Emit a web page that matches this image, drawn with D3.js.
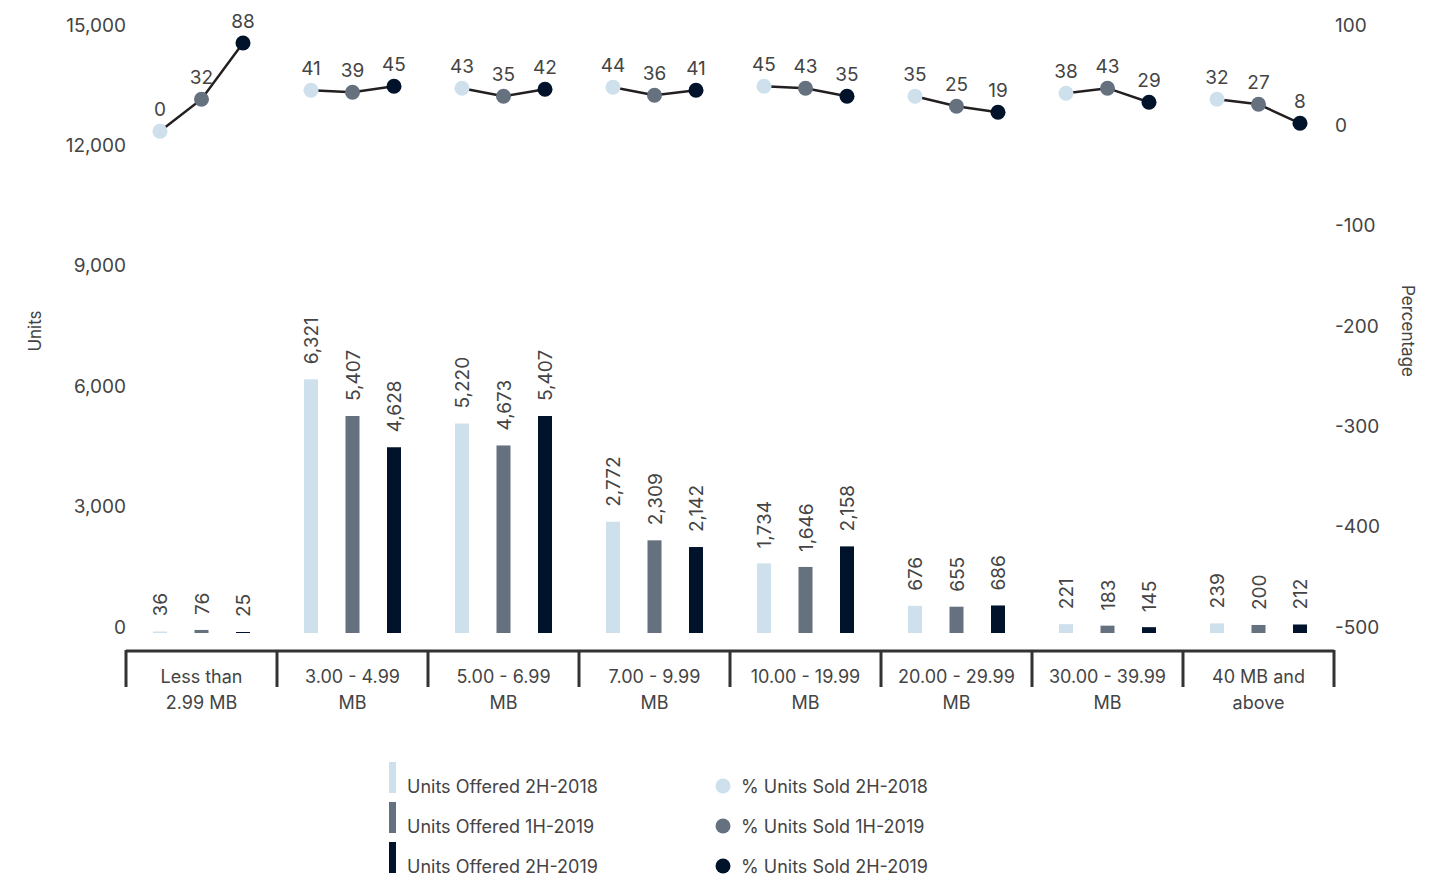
<!DOCTYPE html>
<html>
<head>
<meta charset="utf-8">
<script src="https://cdn.jsdelivr.net/npm/d3@7"></script>
<style>
  html, body { margin: 0; padding: 0; background: #fff; }
  svg text { font-family: Inter, "Open Sans", sans-serif; fill: #444; }
</style>
</head>
<body>
<svg id="chart" width="1444" height="880"></svg>
<script>
// ---- Data ----
const categories = ["Less than 2.99 MB", "3.00 - 4.99 MB", "5.00 - 6.99 MB", "7.00 - 9.99 MB",
                    "10.00 - 19.99 MB", "20.00 - 29.99 MB", "30.00 - 39.99 MB", "40 MB and above"];
const categoryLines = [["Less than", "2.99 MB"], ["3.00 - 4.99", "MB"], ["5.00 - 6.99", "MB"], ["7.00 - 9.99", "MB"],
                       ["10.00 - 19.99", "MB"], ["20.00 - 29.99", "MB"], ["30.00 - 39.99", "MB"], ["40 MB and", "above"]];
const barSeriesNames = ["Units Offered 2H-2018", "Units Offered 1H-2019", "Units Offered 2H-2019"];
const lineSeriesNames = ["% Units Sold 2H-2018", "% Units Sold 1H-2019", "% Units Sold 2H-2019"];
const unitsOffered2H2018 = [36, 6321, 5220, 2772, 1734, 676, 221, 239];
const unitsOffered1H2019 = [76, 5407, 4673, 2309, 1646, 655, 183, 200];
const unitsOffered2H2019 = [25, 4628, 5407, 2142, 2158, 686, 145, 212];
const pctSold2H2018 = [0, 41, 43, 44, 45, 35, 38, 32];
const pctSold1H2019 = [32, 39, 35, 36, 43, 25, 43, 27];
const pctSold2H2019 = [88, 45, 42, 41, 35, 19, 29, 8];
const leftTicks = [0, 3000, 6000, 9000, 12000, 15000];
const rightTicks = [-500, -400, -300, -200, -100, 0, 100];

const colors = ["#cde0ec", "#66717f", "#00132b"];
const barSeries = [unitsOffered2H2018, unitsOffered1H2019, unitsOffered2H2019];
const lineSeries = [pctSold2H2018, pctSold1H2019, pctSold2H2019];

const svg = d3.select("#chart");
const numSize = "19px";

// ---- Scales ----
const x = d3.scaleBand().domain(categories).range([126, 1334]).padding(0);
const xs = d3.scalePoint().domain([0, 1, 2]).range([x.bandwidth() / 2 - 41.5, x.bandwidth() / 2 + 41.5]);
const yL = d3.scaleLinear().domain([0, 15000]).range([633, 31]);
const yR = d3.scaleLinear().domain([-500, 100]).range([633, 31]);
const fmt = d3.format(",");

// ---- Left axis ----
const leftAxis = svg.append("g").attr("transform", "translate(126,0)")
  .call(d3.axisLeft(yL).tickValues(leftTicks).tickFormat(fmt).tickSize(0).tickPadding(0));
leftAxis.select(".domain").remove();
leftAxis.selectAll("text").attr("dy", 0).attr("x", 0)
  .style("font-size", numSize).attr("fill", "#444").attr("font-family", null);

// ---- Right axis ----
const rightAxis = svg.append("g").attr("transform", "translate(1335,0)")
  .call(d3.axisRight(yR).tickValues(rightTicks).tickFormat(d => String(d)).tickSize(0).tickPadding(0));
rightAxis.select(".domain").remove();
rightAxis.selectAll("text").attr("dy", 0).attr("x", 0)
  .style("font-size", numSize).attr("fill", "#444").attr("font-family", null);

// Axis titles
svg.append("text").attr("transform", "translate(41,331) rotate(-90)")
  .attr("text-anchor", "middle").style("font-size", "17px").text("Units");
svg.append("text").attr("transform", "translate(1402,331) rotate(90)")
  .attr("text-anchor", "middle").style("font-size", "17px").text("Percentage");

// ---- Bars ----
barSeries.forEach((vals, si) => {
  const g = svg.append("g");
  g.selectAll("rect").data(vals).join("rect")
    .attr("x", (d, i) => x(categories[i]) + xs(si) - 7)
    .attr("width", 14)
    .attr("y", d => yL(d))
    .attr("height", d => yL(0) - yL(d))
    .attr("fill", colors[si]);
  g.selectAll("text").data(vals).join("text")
    .attr("transform", (d, i) => `translate(${x(categories[i]) + xs(si) + 7},${yL(d) - 15}) rotate(-90)`)
    .attr("text-anchor", "start")
    .style("font-size", numSize)
    .text(d => fmt(d));
});

// ---- Category axis ----
const catAxis = svg.append("g");
catAxis.append("line").attr("x1", x.range()[0]).attr("x2", x.range()[1])
  .attr("y1", 651).attr("y2", 651).attr("stroke", "#333").attr("stroke-width", 3);
const bounds = categories.map(c => x(c)).concat([x.range()[1]]);
catAxis.selectAll("line.tick").data(bounds).join("line").attr("class", "tick")
  .attr("x1", d => d).attr("x2", d => d).attr("y1", 650).attr("y2", 687)
  .attr("stroke", "#333").attr("stroke-width", 3);
categories.forEach((c, i) => {
  const t = catAxis.append("text").attr("text-anchor", "middle").style("font-size", "18px");
  categoryLines[i].forEach((ln, k) => {
    t.append("tspan").attr("x", x(c) + x.bandwidth() / 2).attr("y", 683 + k * 26).text(ln);
  });
});

// ---- Lines + points ----
const lineGen = d3.line().x(d => d[0]).y(d => d[1]);
categories.forEach((c, i) => {
  const pts = lineSeries.map((vals, si) => [x(c) + xs(si), yR(vals[i])]);
  svg.append("path").attr("d", lineGen(pts)).attr("fill", "none")
    .attr("stroke", "#231f20").attr("stroke-width", 2.5);
});
lineSeries.forEach((vals, si) => {
  const g = svg.append("g");
  g.selectAll("circle").data(vals).join("circle")
    .attr("cx", (d, i) => x(categories[i]) + xs(si))
    .attr("cy", d => yR(d))
    .attr("r", 7.5)
    .attr("fill", colors[si]);
  g.selectAll("text").data(vals).join("text")
    .attr("x", (d, i) => x(categories[i]) + xs(si))
    .attr("y", d => yR(d) - 15)
    .attr("text-anchor", "middle")
    .style("font-size", numSize)
    .text(d => d);
});

// ---- Legend ----
const legend = svg.append("g");
barSeriesNames.forEach((name, i) => {
  const cy = 786 + i * 40;
  legend.append("rect").attr("x", 389).attr("y", cy - 24).attr("width", 7).attr("height", 31).attr("fill", colors[i]);
  legend.append("text").attr("x", 407).attr("y", cy + 6.5).style("font-size", "18px").text(name);
});
lineSeriesNames.forEach((name, i) => {
  const cy = 786 + i * 40;
  legend.append("circle").attr("cx", 723).attr("cy", cy).attr("r", 7.5).attr("fill", colors[i]);
  legend.append("text").attr("x", 741).attr("y", cy + 6.5).style("font-size", "18px").text(name);
});
</script>
</body>
</html>
